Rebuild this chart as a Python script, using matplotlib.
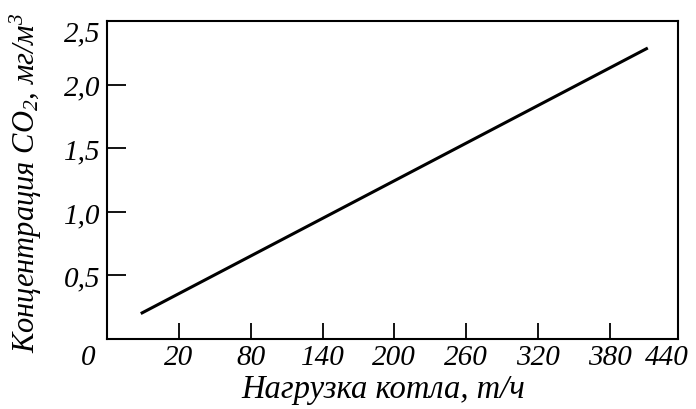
import matplotlib.pyplot as plt

plt.rcParams['font.family'] = 'Liberation Serif'
plt.rcParams['font.style'] = 'italic'
plt.rcParams['mathtext.fontset'] = 'custom'
plt.rcParams['mathtext.rm'] = 'Liberation Serif'
plt.rcParams['mathtext.it'] = 'Liberation Serif:italic'

# данные
load = [-12, 412]          # нагрузка котла, т/ч (в координатах шкалы)
conc = [0.20, 2.29]        # концентрация CO2, мг/м3

x_ticks = [20, 80, 140, 200, 260, 320, 380]
y_ticks = [0.5, 1.0, 1.5, 2.0]
y_labels = ['0,5', '1,0', '1,5', '2,0']

fs = 21

fig = plt.figure(figsize=(6.96, 4.10), dpi=100)
ax = fig.add_axes([107.3 / 696, 1 - 340 / 410, 570.4 / 696, 317.7 / 410])

ax.plot(load, conc, color='black', lw=2.2, solid_capstyle='butt')

ax.set_xlim(-40, 437)
ax.set_ylim(0, 2.5)

ax.set_xticks(x_ticks)
ax.set_xticklabels([str(v) for v in x_ticks])
ax.set_yticks(y_ticks)
ax.set_yticklabels(y_labels)
ax.tick_params(direction='in', width=1.3, labelsize=fs)
ax.tick_params(axis='x', length=11.5, pad=3.5)
ax.tick_params(axis='y', length=13.5, pad=5)

# подписи по краям осей
tx = ax.get_xaxis_text1_transform(3.5)[0]
ax.text(-56, 0, '0', fontsize=fs, ha='center', va='top', transform=tx, clip_on=False)
ax.text(428, 0, '440', fontsize=fs, ha='center', va='top', transform=tx, clip_on=False)
ty = ax.get_yaxis_text1_transform(5)[0]
ax.text(0, 2.43, '2,5', fontsize=fs, ha='right', va='center_baseline', transform=ty, clip_on=False)

for s in ax.spines.values():
    s.set_linewidth(1.5)

ax.set_xlabel('Нагрузка котла, т/ч', fontsize=23.5)
ax.xaxis.set_label_coords(0.484, -0.11)
ax.set_ylabel('Концентрация CO$_2$, мг/м$^3$', fontsize=22)
ax.yaxis.set_label_coords(-0.111, 0.494)

fig.savefig('out.png', dpi=100)
